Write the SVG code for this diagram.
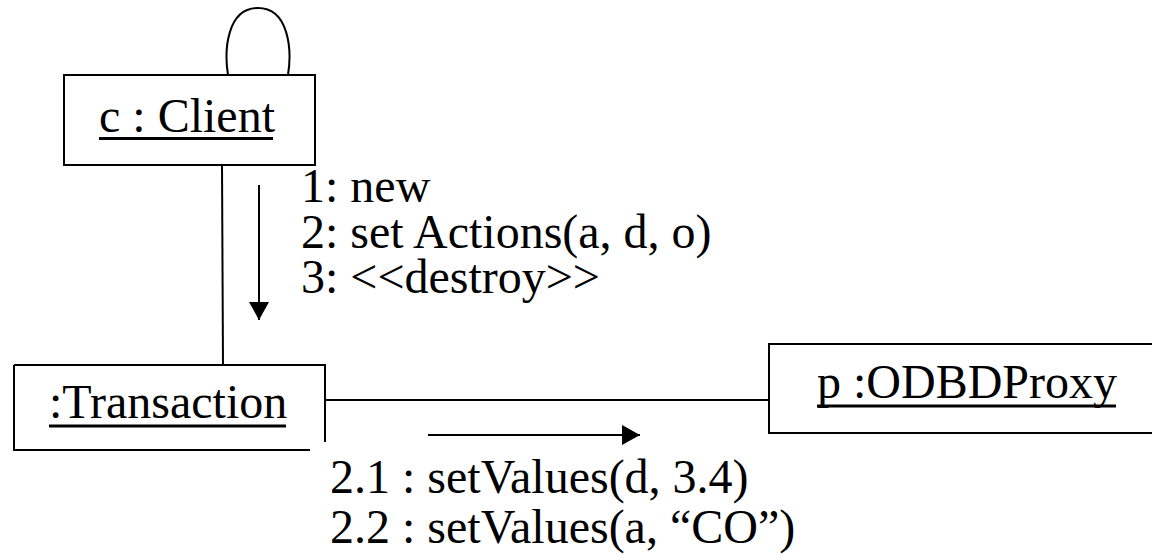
<svg xmlns="http://www.w3.org/2000/svg" width="1152" height="560" viewBox="0 0 1152 560">
  <style>
    .box { fill: #fff; stroke: #000; stroke-width: 2; }
    .edge { fill: none; stroke: #000; stroke-width: 2; }
    .ul { stroke: #000; stroke-width: 3; }
    .lbl { font-family: 'Liberation Serif', 'DejaVu Serif', serif; font-size: 48px; fill: #000; }
  </style>
  <defs>
    <marker id="head" viewBox="0 0 18 20" refX="18" refY="10" markerWidth="18" markerHeight="20" markerUnits="userSpaceOnUse" orient="auto">
      <path d="M0,0 L18,10 L0,20 Z" fill="#000"/>
    </marker>
  </defs>

  <rect width="1152" height="560" fill="#fff"/>

  <!-- links between objects -->
  <g id="connectors">
    <path class="edge" d="M228,75 C224,50 227,8 258,8 C289,8 292,50 288,75"/>
    <line class="edge" x1="222" y1="165" x2="223" y2="365"/>
    <line class="edge" x1="325" y1="400" x2="769" y2="400"/>
    <!-- message direction arrows -->
    <line class="edge" x1="259" y1="185" x2="259" y2="320" marker-end="url(#head)"/>
    <line class="edge" x1="428" y1="435" x2="640" y2="435" marker-end="url(#head)"/>
  </g>

  <g id="client">
    <rect class="box" x="64" y="75" width="251" height="90"/>
    <text class="lbl" x="99" y="132">c : Client</text>
    <line class="ul" x1="99" y1="138.5" x2="273" y2="138.5"/>
  </g>

  <g id="transaction">
    <path class="box" d="M14,365 H325 V442 M310,450 H14 V365" fill="none"/>
    <text class="lbl" x="49" y="418">:Transaction</text>
    <line class="ul" x1="49" y1="426" x2="286" y2="426"/>
  </g>

  <g id="proxy">
    <rect class="box" x="769" y="344" width="400" height="89"/>
    <text class="lbl" x="817" y="398">p :ODBDProxy</text>
    <line class="ul" x1="817" y1="406" x2="1116" y2="406"/>
  </g>

  <g id="messages" class="lbl">
    <text x="301" y="202">1: new</text>
    <text x="301" y="248">2: set Actions(a, d, o)</text>
    <text x="301" y="293">3: &lt;&lt;destroy&gt;&gt;</text>
    <text x="330" y="493">2.1 : setValues(d, 3.4)</text>
    <text x="330" y="543">2.2 : setValues(a, “CO”)</text>
  </g>
</svg>
